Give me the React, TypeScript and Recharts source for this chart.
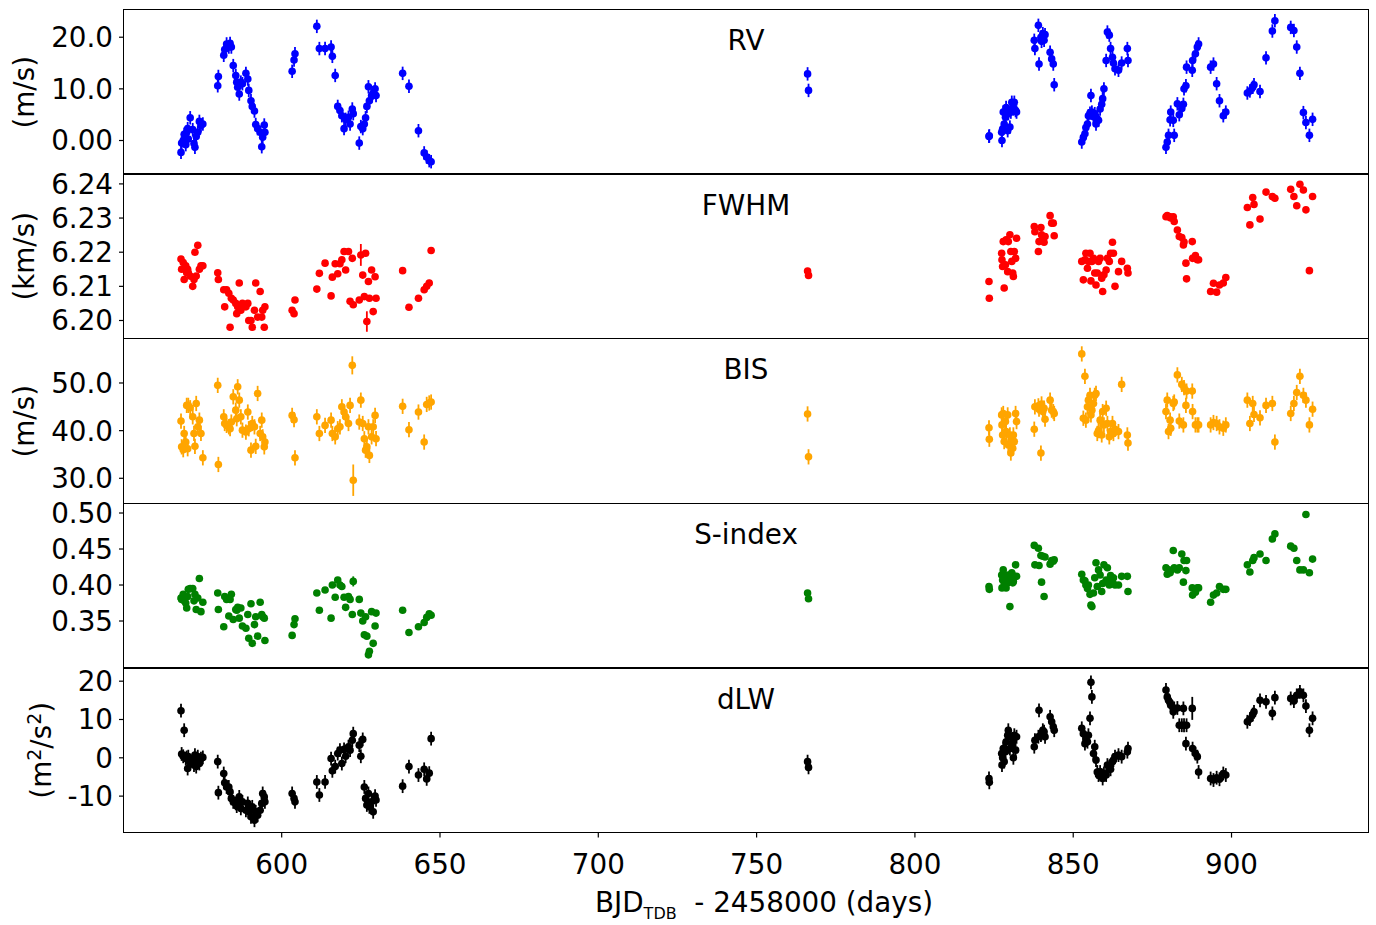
import React from 'react'
import { ScatterChart, Scatter, XAxis, YAxis, ErrorBar } from 'recharts'

const FONT = '"DejaVu Sans", sans-serif'
const FS = 27.8

// observation epochs, BJD_TDB - 2458000
const times = [
  // first season
  568.2, 568.4, 568.9, 569.2, 569.7, 570.0, 570.3, 570.5, 571.1, 571.9, 572.3, 572.6, 573.0, 573.5, 574.0, 574.5, 575.1,
  579.8, 580.0, 581.7, 582.0, 582.6, 583.3, 583.7, 584.1, 584.7, 585.5, 585.8, 586.1, 586.6, 587.1, 587.6, 588.7, 589.3, 589.6,
  590.3, 590.7, 591.4, 591.8, 592.4, 593.2, 593.7, 594.0, 594.5, 594.7,
  603.3, 603.9, 604.2,
  611.1, 611.9, 613.7, 615.6, 616.0, 616.9, 617.7, 618.4, 619.0, 619.7, 620.2, 621.1, 621.6, 622.3, 622.6, 624.5, 625.0, 625.6,
  626.1, 626.5, 626.9, 627.4, 627.7, 628.4, 628.9, 629.5, 629.8,
  638.2, 640.2, 643.2, 645.0, 645.8, 646.6, 647.2,
  766.1, 766.4,
  // second season
  823.4, 823.5, 827.4, 827.5, 827.7, 827.9, 828.2, 828.6, 828.8, 829.3, 829.5, 830.0, 830.3, 830.6, 830.9, 831.1, 831.4, 831.8, 832.1,
  837.7, 837.9, 839.0, 839.2, 839.8, 840.0, 840.4, 840.8, 841.1, 842.7, 843.2, 843.7, 844.0,
  852.7, 853.2, 853.7, 854.0, 854.5, 854.8, 855.3, 855.6, 855.9, 856.4, 856.8, 857.2, 857.6, 858.0, 858.5, 859.0, 859.3, 859.7,
  860.4, 860.8, 861.4, 861.8, 862.4, 862.7, 863.2, 864.3, 865.3, 867.1, 867.3,
  879.3, 879.7, 880.1, 880.6, 880.8, 881.6, 881.9, 882.9, 883.5, 884.3, 884.8, 885.0, 885.6, 885.8, 887.6, 887.7, 888.6, 889.2, 889.6,
  893.4, 894.3, 895.3, 896.2, 897.4, 898.2,
  905.0, 905.8, 906.7, 907.1, 909.0, 910.9, 912.9, 913.7, 918.7, 919.7, 920.6, 921.6, 922.7, 923.5, 924.6, 925.6,
]

const rv = [
  -2.3, -0.5, 0.0, 1.2, -0.8, 1.6, 2.3, 0.3, 4.4, 2.1, -0.6, -1.3, 0.8, 1.6, 3.7, 2.9, 3.2,
  10.6, 12.4, 16.5, 17.6, 18.7, 18.1, 18.8, 18.1, 14.5, 12.6, 11.3, 10.3, 9.0, 11.3, 11.0, 13.0, 11.9, 9.7,
  7.7, 6.6, 5.7, 3.1, 2.3, 1.6, -1.2, 0.65, 3.0, 1.6,
  13.4, 15.6, 16.8,
  22.1, 17.8, 17.8, 18.1, 16.3, 12.6, 6.6, 5.8, 4.8, 2.3, 4.1, 4.5, 3.2, 6.1, 5.2, -0.5, 2.7, 2.3,
  3.2, 4.4, 6.6, 10.4, 7.7, 8.7, 9.2, 10.0, 8.7,
  13.0, 10.5, 1.9, -2.4, -3.2, -3.9, -4.1,
  12.9, 9.7,
  0.8, 0.9, 1.6, 0.0, 2.2, 5.5, 3.2, 4.5, 6.4, 1.9, 5.2, 2.6, 5.5, 7.4, 6.5, 6.1, 7.4, 5.8, 5.5,
  19.4, 17.8, 22.3, 14.8, 20.0, 19.2, 20.7, 19.4, 20.5, 17.1, 15.8, 14.8, 10.8,
  -0.3, 0.6, 1.3, 2.5, 3.2, 4.8, 5.3, 8.7, 5.5, 4.6, 5.2, 3.2, 4.2, 3.9, 6.1, 7.0, 8.1, 10.0,
  15.5, 21.0, 20.4, 17.8, 16.1, 15.0, 13.9, 13.6, 15.0, 17.8, 15.5,
  -1.3, -0.3, 1.0, 4.0, 5.5, 3.9, 1.0, 7.1, 5.0, 6.2, 7.0, 10.0, 10.6, 14.2, 13.6, 15.5, 16.8, 18.1, 18.7,
  14.2, 14.8, 11.0, 7.7, 4.8, 5.5,
  9.2, 9.6, 10.3, 10.8, 9.5, 16.0, 21.2, 23.2, 21.9, 21.3, 18.1, 13.0, 5.4, 3.5, 1.0, 4.1,
]

const fwhm = [
  6.218, 6.215, 6.217, 6.212, 6.216, 6.214, 6.215, 6.214, 6.213, 6.210, 6.212, 6.220, 6.213, 6.222, 6.215, 6.216, 6.216,
  6.214, 6.212, 6.209, 6.204, 6.209, 6.208, 6.198, 6.2065, 6.206, 6.205, 6.202, 6.204, 6.211, 6.203, 6.205, 6.204, 6.205, 6.200,
  6.200, 6.198, 6.203, 6.211, 6.201, 6.2085, 6.201, 6.203, 6.198, 6.204,
  6.203, 6.202, 6.206,
  6.2092, 6.2138, 6.2168, 6.2072, 6.2127, 6.2166, 6.2137, 6.2166, 6.2178, 6.2202, 6.2148, 6.2202, 6.2056, 6.2182, 6.2046, 6.2060, 6.2192, 6.2133,
  6.2070, 6.2197, 6.1997, 6.2114, 6.2065, 6.2148, 6.2026, 6.2128, 6.2065,
  6.2146, 6.2039, 6.2065, 6.2090, 6.2100, 6.2110, 6.2205,
  6.2145, 6.2132,
  6.2114, 6.2065, 6.2197, 6.2178, 6.2158, 6.2231, 6.2095, 6.2163, 6.2236, 6.2143, 6.2231, 6.2251, 6.2202, 6.2173, 6.2139, 6.2129, 6.2202, 6.2182, 6.2241,
  6.2275, 6.2260, 6.2202, 6.2231, 6.2272, 6.2251, 6.2241, 6.2229, 6.2246, 6.2307, 6.2285, 6.2285, 6.2248,
  6.2173, 6.2119, 6.2178, 6.2197, 6.2153, 6.2173, 6.2197, 6.2116, 6.2173, 6.2182, 6.2139, 6.2104, 6.2139, 6.2173, 6.2182, 6.2124, 6.2085, 6.2134,
  6.2148, 6.2182, 6.2173, 6.2197, 6.2229, 6.2197, 6.2100, 6.2143, 6.2173, 6.2153, 6.2139,
  6.2304, 6.2307, 6.2304, 6.2304, 6.2300, 6.2304, 6.2290, 6.2265, 6.2246, 6.2243, 6.2221, 6.2230, 6.2168, 6.2122, 6.2231, 6.2182, 6.2190, 6.2178, 6.2178,
  6.2085, 6.2109, 6.2083, 6.2104, 6.2110, 6.2126,
  6.2331, 6.2280, 6.2360, 6.2340, 6.2297, 6.2376, 6.2363, 6.2358, 6.2384, 6.2363, 6.2336, 6.2399, 6.2382, 6.2324, 6.2146, 6.2363,
]

const bis = [
  42.0, 36.6, 36.0, 39.4, 37.6, 45.3, 36.2, 45.3, 44.8, 42.9, 39.4, 36.7, 45.7, 40.8, 42.2, 39.4, 34.3,
  49.5, 32.9, 42.9, 41.5, 41.1, 40.8, 40.4, 41.8, 47.1, 44.3, 42.5, 49.2, 46.4, 42.9, 40.1, 39.7, 43.9, 40.4,
  35.9, 41.5, 40.8, 36.7, 47.8, 39.4, 42.2, 38.7, 36.6, 37.6,
  43.2, 42.3, 34.3,
  42.9, 39.4, 41.1, 42.2, 39.4, 38.7, 40.4, 40.8, 45.0, 43.9, 42.9, 41.5, 45.3, 53.7, 29.6, 41.8, 46.4, 41.5,
  38.3, 35.9, 36.6, 40.8, 34.8, 38.7, 40.8, 43.2, 38.3,
  45.1, 40.2, 43.9, 37.6, 45.5, 45.8, 46.0,
  43.5, 34.5,
  40.6, 38.2, 43.3, 41.2, 39.1, 43.6, 37.7, 41.9, 39.8, 43.3, 37.0, 39.1, 35.3, 37.7, 36.3, 39.1, 37.7, 43.6, 41.9,
  40.3, 45.0, 45.2, 44.5, 35.3, 45.6, 44.0, 44.7, 42.4, 46.4, 44.3, 44.0, 43.6,
  56.1, 42.6, 51.4, 42.2, 45.0, 46.4, 47.4, 43.3, 44.3, 45.7, 47.4, 47.8, 39.4, 40.0, 42.2, 39.1, 44.0, 41.2,
  44.7, 41.5, 38.7, 39.8, 41.5, 39.4, 40.3, 39.8, 49.7, 39.1, 37.4,
  44.0, 46.4, 39.8, 42.2, 40.5, 45.7, 46.0, 51.7, 42.0, 49.7, 41.2, 49.0, 45.3, 48.3, 48.3, 44.0, 41.2, 41.2, 41.2,
  41.2, 41.7, 41.5, 40.8, 40.5, 41.2,
  46.4, 41.5, 45.7, 43.4, 42.7, 45.3, 45.7, 37.6, 43.6, 45.7, 48.0, 51.4, 47.4, 46.4, 41.2, 44.5,
]

const sIndex = [
  0.382, 0.380, 0.387, 0.378, 0.375, 0.368, 0.384, 0.394, 0.395, 0.395, 0.378, 0.387, 0.366, 0.382, 0.409, 0.363, 0.376,
  0.389, 0.366, 0.342, 0.384, 0.380, 0.357, 0.380, 0.387, 0.352, 0.366, 0.365, 0.369, 0.354, 0.368, 0.343, 0.340, 0.359, 0.326,
  0.374, 0.319, 0.345, 0.356, 0.329, 0.376, 0.359, 0.356, 0.354, 0.323,
  0.330, 0.345, 0.353,
  0.389, 0.365, 0.393, 0.354, 0.400, 0.383, 0.407, 0.400, 0.398, 0.383, 0.369, 0.384, 0.380, 0.359, 0.405, 0.380, 0.361, 0.350,
  0.331, 0.356, 0.329, 0.303, 0.308, 0.363, 0.319, 0.343, 0.361,
  0.365, 0.334, 0.342, 0.348, 0.355, 0.360, 0.358,
  0.389, 0.381,
  0.398, 0.394, 0.414, 0.396, 0.407, 0.421, 0.403, 0.410, 0.396, 0.403, 0.414, 0.370, 0.407, 0.417, 0.403, 0.405, 0.412, 0.428, 0.412,
  0.455, 0.428, 0.451, 0.427, 0.441, 0.404, 0.440, 0.384, 0.439, 0.429, 0.434, 0.433, 0.435,
  0.415, 0.407, 0.406, 0.400, 0.395, 0.400, 0.387, 0.372, 0.370, 0.389, 0.410, 0.431, 0.398, 0.421, 0.414, 0.391, 0.402, 0.428,
  0.407, 0.424, 0.400, 0.413, 0.405, 0.410, 0.400, 0.400, 0.412, 0.412, 0.391,
  0.424, 0.415, 0.421, 0.417, 0.420, 0.448, 0.424, 0.421, 0.424, 0.443, 0.404, 0.434, 0.420, 0.434, 0.396, 0.386, 0.390, 0.396, 0.396,
  0.376, 0.386, 0.389, 0.398, 0.394, 0.394,
  0.428, 0.418, 0.434, 0.438, 0.443, 0.434, 0.464, 0.471, 0.454, 0.451, 0.434, 0.421, 0.421, 0.498, 0.417, 0.436,
]

const dlw = [
  12.3, 1.0, 0.4, 7.2, -0.2, 0.1, -2.8, 0.3, -1.5, -0.6, -1.9, 0.7, -2.3, 0.3, -1.5, -0.2, 0.1,
  -1.0, -9.1, -4.1, -6.5, -7.6, -7.6, -8.9, -10.6, -11.5, -11.9, -12.6, -11.5, -10.2, -13.2, -11.5, -13.7, -11.9, -14.1,
  -15.4, -12.8, -16.3, -14.1, -15.0, -13.7, -11.9, -9.3, -10.2, -11.5,
  -9.3, -10.6, -11.5,
  -6.3, -9.7, -6.3, -0.2, -3.4, -2.3, 1.1, 2.0, -1.5, 2.2, 0.4, 2.9, 2.0, 4.6, 6.3, 3.3, 0.4, 4.8,
  -7.6, -10.6, -12.3, -9.3, -12.8, -11.5, -14.1, -10.0, -11.0,
  -7.4, -2.3, -4.5, -3.0, -5.5, -4.0, 5.0,
  -1.0, -2.5,
  -5.4, -6.4, 1.1, -1.9, 0.0, 2.4, -1.0, 1.6, 4.2, 5.9, 7.2, 2.4, 5.5, 3.3, 4.2, 0.0, 5.9, 2.0, 5.5,
  2.9, 4.6, 5.5, 12.4, 5.9, 6.3, 7.2, 6.8, 5.5, 10.7, 9.4, 8.1, 7.2,
  7.7, 6.3, 3.7, 5.0, 4.2, 5.9, 10.3, 19.7, 15.9, 1.1, 2.9, -0.6, -3.7, -4.5, -3.7, -4.5, -5.4, -4.1,
  -4.5, -1.9, -2.3, -3.0, -1.0, -0.6, 0.3, 0.7, 0.3, 1.6, 2.4,
  17.7, 15.9, 15.0, 14.4, 13.7, 12.0, 12.9, 13.0, 8.5, 8.5, 12.9, 8.5, 3.7, 8.5, 12.9, 2.4, 1.1, 0.3, -3.7,
  -5.4, -5.8, -5.2, -5.6, -4.1, -4.5,
  9.4, 10.1, 11.3, 12.0, 15.0, 14.6, 11.6, 15.7, 15.5, 14.8, 16.3, 17.2, 16.3, 13.5, 7.2, 10.3,
]

// typical 1-sigma error per series, plus the few points with larger bars (by epoch index)
const rvErr = 1.3
const fwhmErr = 0.0009
const bisErr = 1.6
const sIndexErr = 0.0025
const dlwErr = 1.8
const fwhmBigErr: Record<number, number> = { 64: 0.0032, 68: 0.003 }
const bisBigErr: Record<number, number> = { 61: 1.9, 62: 3.3 }
const sIndexBigErr: Record<number, number> = { 62: 0.007 }
const dlwBigErr: Record<number, number> = { 159: 3.0 }

const xTicks = [600, 650, 700, 750, 800, 850, 900]
const X_DOMAIN: [number, number] = [550.2, 943.1]

const PANEL_H = 164.6
const PANEL_TOPS = [9.5, 174.1, 338.7, 503.3, 667.9]
const X_AXIS_H = 92
const PAD = 20 // room above each panel so the top tick label is not clipped

const rows = (vals: number[], err: number, big: Record<number, number> = {}) =>
  times.map((t, i) => ({ t, v: vals[i], e: big[i] ?? err }))

type PanelProps = {
  top: number
  title: string
  color: string
  data: { t: number; v: number; e: number }[]
  domain: [number, number]
  ticks: number[]
  fmt: (v: number) => string
  label?: React.ReactNode
  labelX?: number
  last?: boolean
}

function Panel({ top, title, color, data, domain, ticks, fmt, label, labelX = 34, last }: PanelProps) {
  const h = PAD + PANEL_H + (last ? X_AXIS_H : 0)
  const yLabel = (p: any) => {
    const vb = p.viewBox || {}
    const cy = (vb.y ?? PAD) + (vb.height ?? PANEL_H) / 2
    return (
      <text
        x={labelX}
        y={cy}
        transform={`rotate(-90 ${labelX} ${cy})`}
        textAnchor="middle"
        fontFamily={FONT}
        fontSize={FS}
        fill="#000"
      >
        {label}
      </text>
    )
  }
  const xLabel = () => {
    const y = 911.5 - top + PAD
    return (
      <text x={764} y={y} textAnchor="middle" fontFamily={FONT} fontSize={FS} fill="#000" style={{ whiteSpace: 'pre' }}>
        <tspan>BJD</tspan>
        <tspan fontSize={16} dy={7}>TDB</tspan>
        <tspan dy={-7}>{'  - 2458000 (days)'}</tspan>
      </text>
    )
  }
  return (
    <div style={{ position: 'absolute', left: 0, top: top - PAD, width: 1376, height: h }}>
      <ScatterChart width={1376} height={h} margin={{ top: PAD, right: 8, bottom: 0, left: 0 }}>
        <XAxis
          type="number"
          dataKey="t"
          domain={X_DOMAIN}
          ticks={xTicks}
          interval={0}
          allowDataOverflow
          hide={!last}
          height={X_AXIS_H}
          axisLine={false}
          tickLine={{ stroke: '#000', strokeWidth: 1.2 }}
          tickSize={5}
          tickMargin={17}
          tick={{ fill: '#000', fontSize: FS, fontFamily: FONT }}
          label={last ? xLabel : undefined}
        />
        <YAxis
          type="number"
          dataKey="v"
          domain={domain}
          ticks={ticks}
          interval={0}
          allowDataOverflow
          width={124}
          axisLine={false}
          tickLine={{ stroke: '#000', strokeWidth: 1.2 }}
          tickSize={5}
          tickMargin={6}
          tickFormatter={fmt}
          tick={{ fill: '#000', fontSize: FS, fontFamily: FONT }}
          label={label ? yLabel : undefined}
        />
        <Scatter
          data={data}
          fill={color}
          isAnimationActive={false}
          shape={(p: any) => <circle cx={p.cx} cy={p.cy} r={3.8} fill={color} />}
        >
          <ErrorBar dataKey="e" direction="y" width={0} stroke={color} strokeWidth={1.8} />
        </Scatter>
      </ScatterChart>
      <div
        style={{
          position: 'absolute',
          left: 123.4,
          top: PAD - 0.65,
          width: 1245.2,
          height: PANEL_H + 1.3,
          border: '1.3px solid #000',
          boxSizing: 'border-box',
          pointerEvents: 'none',
        }}
      />
      <div
        style={{
          position: 'absolute',
          left: 124,
          width: 1244,
          top: PAD + 17.8,
          textAlign: 'center',
          fontFamily: FONT,
          fontSize: FS,
          lineHeight: '28px',
          color: '#000',
        }}
      >
        {title}
      </div>
    </div>
  )
}

export default function App() {
  return (
    <div style={{ position: 'absolute', left: 0, top: 0, width: 1376, height: 925, background: '#fff' }}>
      <Panel
        top={PANEL_TOPS[0]}
        title="RV"
        color="#0000ff"
        data={rows(rv, rvErr)}
        domain={[-6.6, 25.27]}
        ticks={[0, 10, 20]}
        fmt={(v) => (v === 0 ? '0.00' : v.toFixed(1))}
        label="(m/s)"
      />
      <Panel
        top={PANEL_TOPS[1]}
        title="FWHM"
        color="#ff0000"
        data={rows(fwhm, fwhmErr, fwhmBigErr)}
        domain={[6.1947, 6.2429]}
        ticks={[6.2, 6.21, 6.22, 6.23, 6.24]}
        fmt={(v) => v.toFixed(2)}
        label="(km/s)"
      />
      <Panel
        top={PANEL_TOPS[2]}
        title="BIS"
        color="#ffa500"
        data={rows(bis, bisErr, bisBigErr)}
        domain={[24.69, 59.23]}
        ticks={[30, 40, 50]}
        fmt={(v) => v.toFixed(1)}
        label="(m/s)"
      />
      <Panel
        top={PANEL_TOPS[3]}
        title="S-index"
        color="#008000"
        data={rows(sIndex, sIndexErr, sIndexBigErr)}
        domain={[0.2853, 0.5139]}
        ticks={[0.35, 0.4, 0.45, 0.5]}
        fmt={(v) => v.toFixed(2)}
      />
      <Panel
        top={PANEL_TOPS[4]}
        title="dLW"
        color="#000000"
        data={rows(dlw, dlwErr, dlwBigErr)}
        domain={[-19.52, 23.44]}
        ticks={[-10, 0, 10, 20]}
        fmt={(v) => String(v)}
        labelX={51}
        label={
          <>
            <tspan>(m</tspan>
            <tspan fontSize={19} dy={-10}>2</tspan>
            <tspan dy={10}>/s</tspan>
            <tspan fontSize={19} dy={-10}>2</tspan>
            <tspan dy={10}>)</tspan>
          </>
        }
        last
      />
    </div>
  )
}
